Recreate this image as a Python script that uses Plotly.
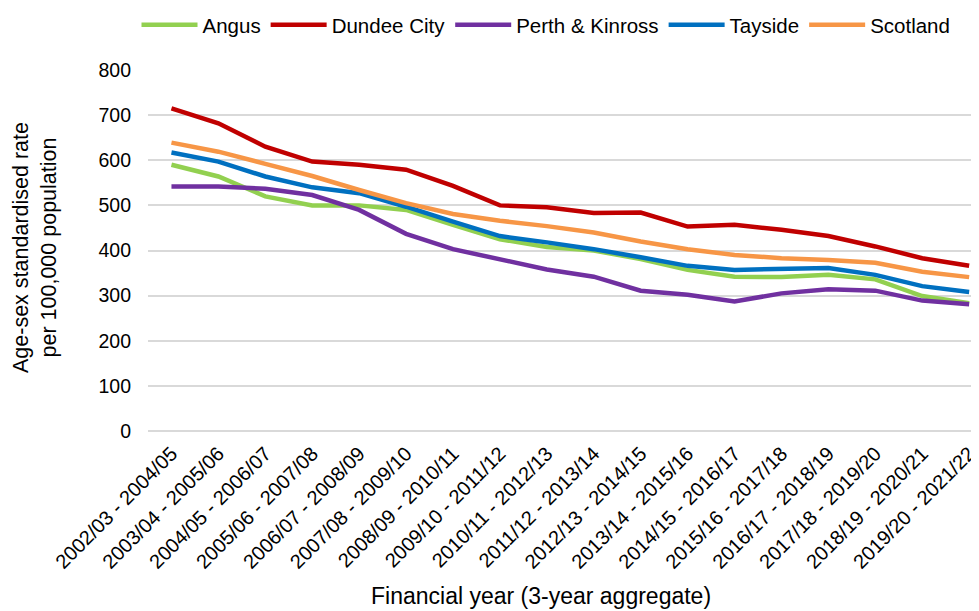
import plotly.graph_objects as go

categories = [
    "2002/03 - 2004/05", "2003/04 - 2005/06", "2004/05 - 2006/07",
    "2005/06 - 2007/08", "2006/07 - 2008/09", "2007/08 - 2009/10",
    "2008/09 - 2010/11", "2009/10 - 2011/12", "2010/11 - 2012/13",
    "2011/12 - 2013/14", "2012/13 - 2014/15", "2013/14 - 2015/16",
    "2014/15 - 2016/17", "2015/16 - 2017/18", "2016/17 - 2018/19",
    "2017/18 - 2019/20", "2018/19 - 2020/21", "2019/20 - 2021/22",
]

angus = [590, 564, 520, 500, 500, 490, 457, 425, 408, 400, 381, 357, 342, 341, 346, 336, 299, 283]
dundee = [715, 682, 630, 597, 590, 579, 543, 500, 496, 483, 484, 453, 457, 446, 432, 409, 383, 366]
perth = [542, 542, 537, 523, 490, 437, 403, 381, 358, 342, 311, 302, 287, 305, 314, 311, 289, 281]
tayside = [617, 597, 564, 540, 527, 497, 464, 432, 418, 403, 385, 366, 357, 359, 361, 346, 321, 308]
scotland = [639, 619, 592, 565, 534, 505, 481, 466, 454, 440, 420, 403, 390, 383, 379, 373, 353, 341]

y_ticks = [0, 100, 200, 300, 400, 500, 600, 700, 800]

series = [
    ("Angus", angus, "#92D050"),
    ("Dundee City", dundee, "#C00000"),
    ("Perth & Kinross", perth, "#7030A0"),
    ("Tayside", tayside, "#0070C0"),
    ("Scotland", scotland, "#F79646"),
]

FONT = "Liberation Sans, Arial, sans-serif"

# page body has an 8px margin, so the figure is drawn 8px in from the corner
W, H = 971, 603

fig = go.Figure()
for name, vals, col in series:
    fig.add_trace(go.Scatter(
        x=list(range(len(categories))), y=vals, name=name, mode="lines",
        line=dict(color=col, width=4.5),
    ))

fig.update_layout(
    width=W, height=H,
    margin=dict(l=140, r=0, t=62, b=180, pad=0),
    paper_bgcolor="white", plot_bgcolor="white",
    font=dict(family=FONT, size=19, color="#000000"),
    showlegend=True,
    legend=dict(
        orientation="h", xref="container", yref="container",
        x=538 / W, xanchor="center", y=1 - 17 / H, yanchor="middle",
        font=dict(family=FONT, size=20.5, color="#000000"),
        itemwidth=56, traceorder="normal", bgcolor="rgba(0,0,0,0)",
    ),
    xaxis=dict(
        tickmode="array", tickvals=list(range(len(categories))), ticktext=categories,
        tickangle=-45, range=[-0.5, 17.21], showgrid=False, zeroline=False,
        showline=False, ticks="", ticklabelstandoff=6, ticklabeloverflow="allow",
        tickfont=dict(family=FONT, size=20, color="#000000"),
    ),
    yaxis=dict(
        range=[0, 800], tickvals=y_ticks, showgrid=True, gridcolor="#D9D9D9",
        gridwidth=1.5, zeroline=True, zerolinecolor="#D9D9D9", zerolinewidth=1.5,
        showline=False, ticks="", ticklabelstandoff=16,
        tickfont=dict(family=FONT, size=19.5, color="#000000"),
    ),
    annotations=[
        dict(text="Age-sex standardised rate<br>per 100,000 population",
             xref="paper", yref="paper", x=(35 - 148) / 831, y=(431 - 248) / 361,
             xanchor="center", yanchor="middle", textangle=-90, showarrow=False,
             font=dict(family=FONT, size=21.5, color="#000000")),
        dict(text="Financial year (3-year aggregate)",
             xref="paper", yref="paper", x=(541 - 148) / 831, y=-(611 - 431) / 361,
             xanchor="center", yanchor="bottom", showarrow=False,
             font=dict(family=FONT, size=23, color="#000000")),
    ],
)

fig.write_html("out.html")
